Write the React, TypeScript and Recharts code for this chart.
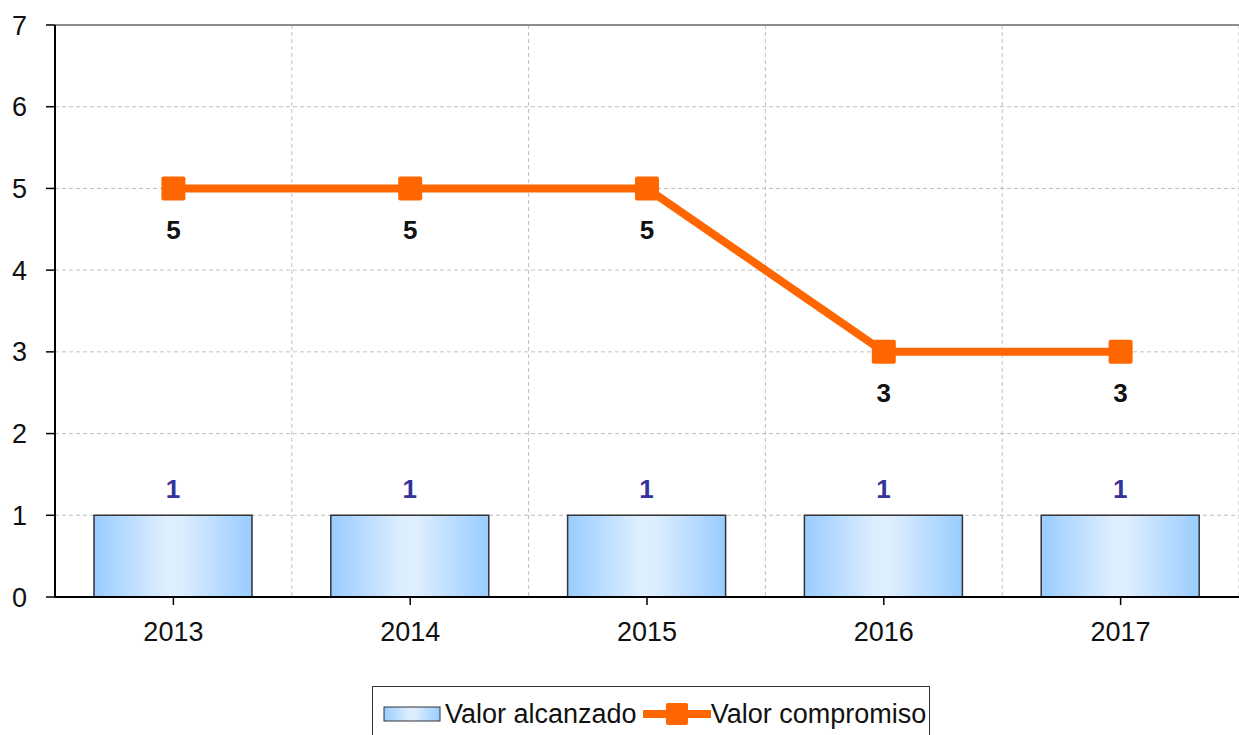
import {
  ComposedChart,
  Bar,
  Line,
  XAxis,
  YAxis,
  CartesianGrid,
  Legend,
  LabelList,
  ReferenceLine,
} from "recharts";

const years = ["2013", "2014", "2015", "2016", "2017"];
const alcanzado = [1, 1, 1, 1, 1];
const compromiso = [5, 5, 5, 3, 3];
const yTicks = [0, 1, 2, 3, 4, 5, 6, 7];
const slotTicks = [0, 1, 2, 3, 4, 5];

const data = years.map((year, i) => ({
  year,
  slot: i + 0.5,
  alcanzado: alcanzado[i],
  compromiso: compromiso[i],
}));

const FONT = "'Liberation Sans', Arial, sans-serif";
const ORANGE = "#FF6600";

function SquareDot(props: any) {
  const { cx, cy } = props;
  if (cx == null || cy == null) return null;
  return <rect x={cx - 12} y={cy - 12} width={24} height={24} rx={2} fill={ORANGE} />;
}

function ChartLegend() {
  return (
    <div
      style={{
        border: "1px solid #333",
        background: "#fff",
        width: 558,
        height: 60,
        boxSizing: "border-box",
        display: "flex",
        alignItems: "flex-start",
        paddingTop: 12,
        paddingLeft: 10,
        fontFamily: FONT,
        fontSize: 27,
        color: "#111",
        whiteSpace: "nowrap",
      }}
    >
      <svg width={58} height={28} style={{ marginRight: 4 }}>
        <rect x={1} y={8} width={56} height={14} fill="url(#barGrad)" stroke="#333" strokeWidth={1} />
      </svg>
      <span style={{ lineHeight: "30px", marginRight: 6 }}>Valor alcanzado</span>
      <svg width={68} height={28}>
        <line x1={2} y1={15} x2={66} y2={15} stroke={ORANGE} strokeWidth={8} strokeLinecap="round" />
        <rect x={23} y={4} width={22} height={22} rx={2} fill={ORANGE} />
      </svg>
      <span style={{ lineHeight: "30px" }}>Valor compromiso</span>
    </div>
  );
}

export default function App() {
  return (
    <div style={{ position: "absolute", left: 0, top: 0, background: "#fff" }}>
      <ComposedChart
        width={1239}
        height={735}
        data={data}
        margin={{ top: 25, right: 0, left: 0, bottom: 78 }}
        style={{ fontFamily: FONT }}
      >
        <defs>
          <linearGradient id="barGrad" x1="0" y1="0" x2="1" y2="0">
            <stop offset="0%" stopColor="#99CCFF" />
            <stop offset="45%" stopColor="#DDEEFF" />
            <stop offset="55%" stopColor="#DDEEFF" />
            <stop offset="100%" stopColor="#99CCFF" />
          </linearGradient>
        </defs>
        <CartesianGrid
          xAxisId="slots"
          stroke="#BFBFBF"
          strokeDasharray="4 3"
        />
        <ReferenceLine y={7} stroke="#8C8C8C" strokeWidth={2} />
        <XAxis
          xAxisId="slots"
          dataKey="slot"
          type="number"
          domain={[0, 5]}
          ticks={slotTicks}
          tickFormatter={() => ""}
          height={0}
          tickSize={9}
          axisLine={false}
          tickLine={{ stroke: "#000", strokeWidth: 1.5 }}
        />
        <XAxis
          dataKey="year"
          height={60}
          tickSize={8}
          tickMargin={17}
          axisLine={{ stroke: "#000", strokeWidth: 2 }}
          tickLine={{ stroke: "#000", strokeWidth: 1.5 }}
          tick={{ fill: "#111", fontSize: 27, fontFamily: FONT }}
        />
        <YAxis
          domain={[0, 7]}
          ticks={yTicks}
          width={55}
          tickSize={9}
          tickMargin={19}
          axisLine={{ stroke: "#000", strokeWidth: 2 }}
          tickLine={{ stroke: "#000", strokeWidth: 1.5 }}
          tick={{ fill: "#111", fontSize: 27, fontFamily: FONT }}
        />
        <Bar
          dataKey="alcanzado"
          name="Valor alcanzado"
          barSize={158}
          fill="url(#barGrad)"
          stroke="#333"
          strokeWidth={1.5}
          isAnimationActive={false}
        >
          <LabelList
            dataKey="alcanzado"
            position="top"
            offset={17}
            fill="#333399"
            fontSize={26}
            fontWeight="bold"
            fontFamily={FONT}
          />
        </Bar>
        <Line
          dataKey="compromiso"
          name="Valor compromiso"
          stroke={ORANGE}
          strokeWidth={8}
          dot={<SquareDot />}
          activeDot={false}
          isAnimationActive={false}
        >
          <LabelList
            dataKey="compromiso"
            position="bottom"
            offset={32}
            fill="#111"
            fontSize={26}
            fontWeight="bold"
            fontFamily={FONT}
          />
        </Line>
        <Legend
          layout="horizontal"
          align="center"
          verticalAlign="middle"
          content={() => <ChartLegend />}
          wrapperStyle={{ left: 372, top: 686, width: 560, height: 60 }}
        />
      </ComposedChart>
    </div>
  );
}
